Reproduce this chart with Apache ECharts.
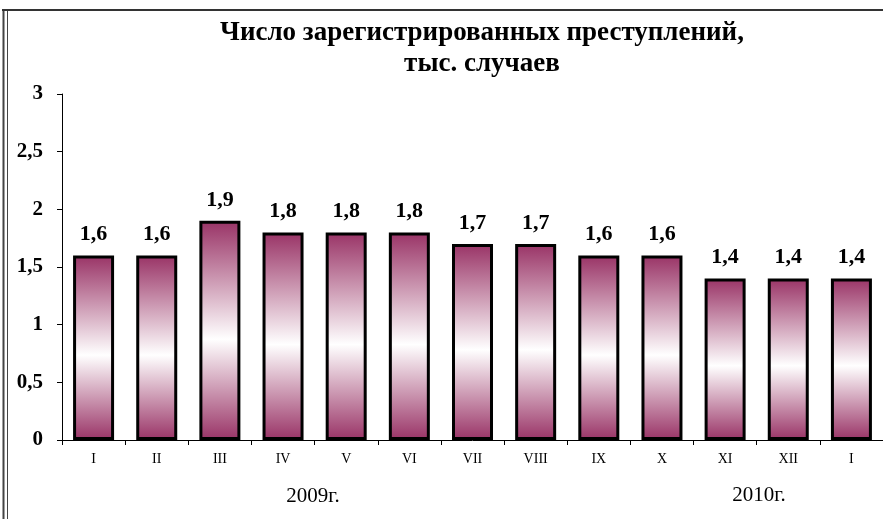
<!DOCTYPE html>
<html>
<head>
<meta charset="utf-8">
<script src="https://cdn.jsdelivr.net/npm/echarts@6/dist/echarts.min.js"></script>
<style>
html,body{margin:0;padding:0;background:#fff;}
#c{width:883px;height:519px;}
</style>
</head>
<body>
<div id="c"></div>
<script>
const titleLines = ['Число зарегистрированных преступлений,', 'тыс. случаев'];
const categories = ['I','II','III','IV','V','VI','VII','VIII','IX','X','XI','XII','I'];
const values = [1.6,1.6,1.9,1.8,1.8,1.8,1.7,1.7,1.6,1.6,1.4,1.4,1.4];
const yearLabels = ['2009г.', '2010г.'];
const yMin = 0, yMax = 3, yStep = 0.5;

const serif = '"Liberation Serif", "DejaVu Serif", serif';
const chart = echarts.init(document.getElementById('c'));
chart.setOption({
  backgroundColor: '#ffffff',
  animation: false,
  title: {
    text: titleLines.join('\n'),
    left: 477,
    top: 13,
    textAlign: 'center',
    textStyle: { fontFamily: serif, fontWeight: 'bold', fontSize: 27, lineHeight: 31, color: '#000' }
  },
  grid: { left: 62, right: -7, top: 94, bottom: 79, containLabel: false },
  xAxis: {
    type: 'category',
    data: categories,
    axisLine: { lineStyle: { color: '#000', width: 1 } },
    axisTick: { show: true, length: 5, lineStyle: { color: '#000' } },
    axisLabel: { fontFamily: serif, fontSize: 14, color: '#000', margin: 12, interval: 0 }
  },
  yAxis: {
    type: 'value',
    min: yMin, max: yMax, interval: yStep,
    axisLine: { show: true, lineStyle: { color: '#000', width: 1 } },
    axisTick: { show: true, length: 5, lineStyle: { color: '#000' } },
    splitLine: { show: false },
    axisLabel: {
      fontFamily: serif, fontSize: 21, fontWeight: 'bold', color: '#000', margin: 19,
      formatter: v => String(v).replace('.', ',')
    }
  },
  series: [{
    type: 'bar',
    data: values,
    barWidth: 41,
    itemStyle: {
      color: new echarts.graphic.LinearGradient(0, 0, 0, 1, [
        { offset: 0, color: '#993366' },
        { offset: 0.54, color: '#ffffff' },
        { offset: 1, color: '#993366' }
      ]),
      borderColor: '#000',
      borderWidth: 3
    },
    label: {
      show: true, position: 'top', distance: 10,
      fontFamily: serif, fontSize: 22, fontWeight: 'bold', color: '#000',
      formatter: p => String(p.value).replace('.', ',')
    }
  }],
  graphic: [
    { type: 'text', x: 313, y: 496, style: { text: yearLabels[0], font: '21px ' + serif, fill: '#000', align: 'center', verticalAlign: 'middle' } },
    { type: 'text', x: 759, y: 495, style: { text: yearLabels[1], font: '21px ' + serif, fill: '#000', align: 'center', verticalAlign: 'middle' } },
    { type: 'line', shape: { x1: 3.5, y1: 9, x2: 3.5, y2: 519 }, style: { stroke: '#444', lineWidth: 2 } },
    { type: 'line', shape: { x1: 7.5, y1: 11, x2: 7.5, y2: 519 }, style: { stroke: '#444', lineWidth: 1 } },
    { type: 'line', shape: { x1: 2, y1: 10, x2: 883, y2: 10 }, style: { stroke: '#333', lineWidth: 2 } }
  ]
});
</script>
</body>
</html>
